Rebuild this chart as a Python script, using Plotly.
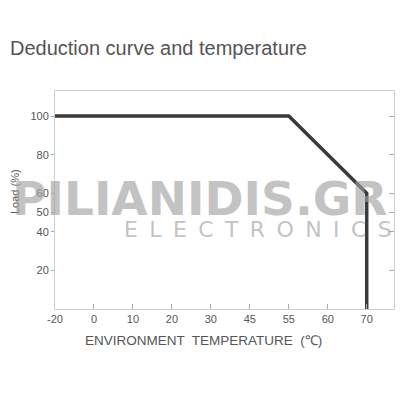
import plotly.graph_objects as go

# ---- data ----
x_tick_labels = ["-20", "0", "10", "20", "30", "45", "55", "60", "70"]
y_tick_values = [100, 80, 60, 50, 40, 20]
curve_temp = [-20, 55, 70, 70]
curve_load = [100, 100, 60, 0]

title_text = "Deduction curve and temperature"
x_title = "ENVIRONMENT  TEMPERATURE  (℃)"
y_title = "Load (%)"

# map temperatures onto the (evenly spaced) tick positions
x_pos = [x_tick_labels.index(str(t)) for t in curve_temp]

fig = go.Figure()
fig.add_trace(go.Scatter(
    x=x_pos, y=curve_load, mode="lines",
    line=dict(color="#3a3a3a", width=3.5),
    hoverinfo="skip", showlegend=False,
))
# invisible trace to draw right-side inside ticks
fig.add_trace(go.Scatter(
    x=x_pos, y=curve_load, mode="lines", yaxis="y2",
    line=dict(color="rgba(0,0,0,0)", width=0),
    hoverinfo="skip", showlegend=False,
))

axis_grey = "#cfcfcf"
tick_font = dict(family="Liberation Sans, Arial, sans-serif", size=11, color="#555555")

fig.update_layout(
    width=400, height=400,
    margin=dict(l=55, r=6, t=91, b=91),
    paper_bgcolor="white", plot_bgcolor="white",
    xaxis=dict(
        range=[0, 8.7],
        tickmode="array", tickvals=list(range(len(x_tick_labels))), ticktext=x_tick_labels,
        ticks="inside", ticklen=5, tickcolor="#aaaaaa", tickwidth=1,
        showline=True, linecolor=axis_grey, linewidth=1, mirror=True,
        showgrid=False, zeroline=False, tickfont=tick_font,
    ),
    yaxis=dict(
        range=[0, 113],
        tickmode="array", tickvals=y_tick_values,
        ticks="outside", ticklen=3, tickcolor="#aaaaaa", tickwidth=1,
        showline=True, linecolor=axis_grey, linewidth=1, mirror=True,
        showgrid=False, zeroline=False, tickfont=tick_font,
        ticklabelstandoff=0,
    ),
    yaxis2=dict(
        range=[0, 113], overlaying="y", side="right",
        tickmode="array", tickvals=y_tick_values,
        ticks="inside", ticklen=5, tickcolor="#aaaaaa", tickwidth=1,
        showticklabels=False, showline=False, showgrid=False, zeroline=False,
    ),
)

wm_color = "rgba(160,160,160,0.65)"
annotations = [
    dict(text=title_text, x=8, y=48, showarrow=False,
         xanchor="left", yanchor="middle",
         font=dict(family="Liberation Sans, Arial, sans-serif", size=20, color="#555555")),
    dict(text=x_title, x=203, y=340, showarrow=False, xanchor="center", yanchor="middle",
         font=dict(family="Liberation Sans, Arial, sans-serif", size=13.5, color="#555555")),
    dict(text=y_title, x=15, y=192, showarrow=False, xanchor="center", yanchor="middle",
         textangle=-90,
         font=dict(family="Liberation Sans, Arial, sans-serif", size=11, color="#555555")),
    # watermark
    dict(text="<b>PILIANIDIS.GR</b>", x=200, y=198, showarrow=False, xanchor="center", yanchor="middle",
         font=dict(family="DejaVu Sans, sans-serif", size=47, color=wm_color)),
    dict(text="\u2009 ".join("ELECTRONICS"), x=258, y=229, showarrow=False,
         xanchor="center", yanchor="middle",
         font=dict(family="DejaVu Sans, sans-serif", size=22, color=wm_color)),
]
# convert pixel positions to paper coordinates
pl, pr, pt, pb = 55, 394, 91, 309
for a in annotations:
    a["xref"] = "paper"; a["yref"] = "paper"
    a["x"] = (a["x"] - pl) / (pr - pl)
    a["y"] = (pb - a["y"]) / (pb - pt)
fig.update_layout(annotations=annotations)

fig.write_html("out.html", config={"displayModeBar": False},
               post_script="document.body.style.margin='0';document.body.style.overflow='hidden';")
